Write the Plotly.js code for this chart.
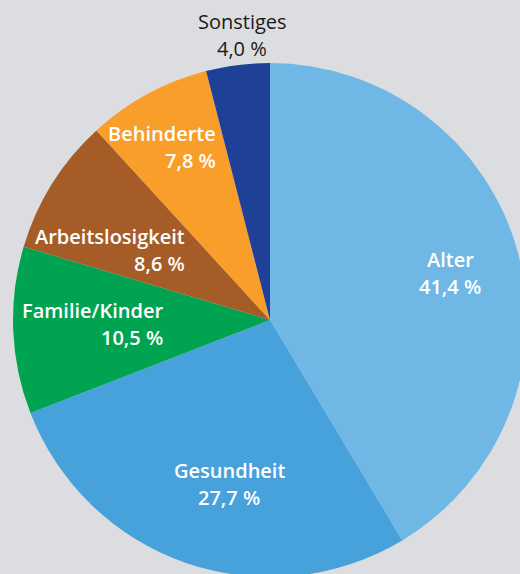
<!DOCTYPE html>
<html>
<head>
<meta charset="utf-8">
<script src="https://cdn.plot.ly/plotly-3.0.1.min.js"></script>
<style>
  html, body { margin: 0; padding: 0; overflow: hidden; background: #dcdde0; width: 520px; height: 574px; }
  #chart { position: absolute; left: 0; top: 0; width: 540px; height: 600px; }
</style>
</head>
<body>
<div id="chart"></div>
<script>
// Data
const categories = ["Alter", "Gesundheit", "Familie/Kinder", "Arbeitslosigkeit", "Behinderte", "Sonstiges"];
const values = [41.4, 27.7, 10.5, 8.6, 7.8, 4.0];
const valueLabels = ["41,4 %", "27,7 %", "10,5 %", "8,6 %", "7,8 %", "4,0 %"];

// Styles
const colors = ["#6fb8e6", "#47a1db", "#00a352", "#a65c27", "#f99d2b", "#1e4097"];
const textColors = ["#ffffff", "#ffffff", "#ffffff", "#ffffff", "#ffffff", "#1a1a1a"];
const textWeights = [600, 600, 600, 600, 600, 400];
const textAnchors = ["center", "center", "right", "right", "right", "center"];
const labelRadius = [0.724, 0.657, 0.409, 0.423, 0.703, 1.114];
const labelAngleShift = [0.9, -5.0, 0.1, 8.1, 11.7, 1.6];

const W = 540, H = 600;
const cx = 270, cy = 320, R = 257;
const domX = [(cx - R) / W, (cx + R) / W];
const domY = [1 - (cy + R) / H, 1 - (cy - R) / H];

const total = values.reduce((a, b) => a + b, 0);
const annotations = [];
let cum = 0;
values.forEach((v, i) => {
  const mid = (cum + v / 2) / total * 360;
  cum += v;
  const a = (mid + labelAngleShift[i]) * Math.PI / 180;
  const px = cx + R * labelRadius[i] * Math.sin(a);
  const py = cy - R * labelRadius[i] * Math.cos(a);
  const lines = [categories[i], valueLabels[i]];
  lines.forEach((t, k) => {
    annotations.push({
      xref: "paper", yref: "paper",
      x: px / W, y: 1 - (py + (k === 0 ? -13.5 : 13.5)) / H,
      text: t, showarrow: false,
      xanchor: textAnchors[i], yanchor: "middle",
      font: { family: "Open Sans, sans-serif", size: 20, color: textColors[i], weight: textWeights[i] }
    });
  });
});

const trace = {
  type: "pie",
  labels: categories,
  values: values,
  sort: false,
  direction: "clockwise",
  rotation: 0,
  textinfo: "none",
  hoverinfo: "none",
  marker: { colors: colors, line: { width: 0 } },
  domain: { x: domX, y: domY },
  showlegend: false
};

const layout = {
  width: W, height: H,
  margin: { l: 0, r: 0, t: 0, b: 0 },
  paper_bgcolor: "#dcdde0",
  plot_bgcolor: "#dcdde0",
  showlegend: false,
  annotations: annotations
};

Plotly.newPlot("chart", [trace], layout, { displayModeBar: false, staticPlot: true });
</script>
</body>
</html>
